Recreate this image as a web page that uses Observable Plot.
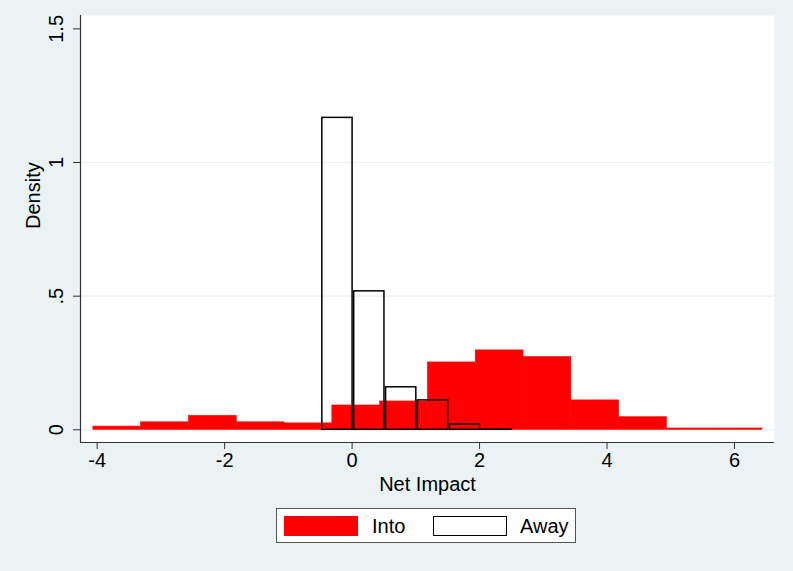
<!DOCTYPE html>
<html>
<head>
<meta charset="utf-8">
<script src="https://cdn.jsdelivr.net/npm/d3@7"></script>
<script src="https://cdn.jsdelivr.net/npm/@observablehq/plot@0.6"></script>
<style>
  html, body { margin: 0; padding: 0; background: #eaf2f3; }
  #wrap { position: relative; width: 793px; height: 571px; background: #eaf2f3;
          font-family: "Liberation Sans", Arial, sans-serif; }
  #plot svg { display: block; }
  #legend { position: absolute; left: 276px; top: 508px; width: 300px; height: 35px;
            background: #fff; border: 1px solid #555; box-sizing: border-box; }
  .sw { position: absolute; top: 7px; width: 74px; height: 20px; box-sizing: border-box; }
  .lab { position: absolute; top: 5px; font-size: 20px; line-height: 24px; color: #000; }
</style>
</head>
<body>
<div id="wrap">
  <div id="plot"></div>
  <div id="legend"></div>
</div>
<script>
// ---- data ----
const intoBinStart = [-4.06, -3.31, -2.56, -1.81, -1.06, -0.31, 0.44, 1.19, 1.94, 2.69, 3.44, 4.19, 4.94, 5.69];
const intoBinWidth = 0.75;
const intoDensity  = [0.012, 0.028, 0.052, 0.028, 0.024, 0.091, 0.106, 0.252, 0.297, 0.272, 0.110, 0.047, 0.005, 0.005];

const awayBinStart = [-0.48, 0.02, 0.52, 1.02, 1.52, 2.02];
const awayBinWidth = 0.5;
const awayDensity  = [1.167, 0.518, 0.159, 0.110, 0.020, 0.001];

const xTicks = [-4, -2, 0, 2, 4, 6];
const yTicks = [0, 0.5, 1, 1.5];
const yTickLabels = ["0", ".5", "1", "1.5"];
const gridValues = [0, 0.5, 1];
const seriesNames = ["Into", "Away"];
const seriesColors = ["#ff0000", "#000000"];
const xLabel = "Net Impact";
const yLabel = "Density";

const xDomain = [-4.262, 6.628];
const yDomain = [-0.0475, 1.55];

// ---- build tables ----
const intoData = intoBinStart.map((s, i) => ({x1: s, x2: s + intoBinWidth, y: intoDensity[i]}));
const awayData = awayBinStart.map((s, i) => ({x1: s, x2: s + awayBinWidth, y: awayDensity[i]}));

const font = '"Liberation Sans", Arial, sans-serif';

const chart = Plot.plot({
  width: 793,
  height: 500,
  marginLeft: 80,
  marginRight: 19,
  marginTop: 15,
  marginBottom: 58,
  style: {background: "none", color: "#000", fontFamily: font, fontSize: "20px"},
  x: {domain: xDomain},
  y: {domain: yDomain},
  marks: [
    Plot.frame({fill: "white"}),
    Plot.ruleY(gridValues, {stroke: "#eaf2f3", strokeWidth: 1.2}),
    Plot.rect(intoData, {x1: "x1", x2: "x2", y1: 0, y2: "y", fill: seriesColors[0],
                         stroke: seriesColors[0], strokeWidth: 0.6}),
    Plot.rect(awayData, {x1: "x1", x2: "x2", y1: 0, y2: "y", fill: "none",
                         stroke: seriesColors[1], strokeWidth: 1.5, insetLeft: 0.8, insetRight: 0.8}),
    Plot.ruleX([xDomain[0]], {stroke: "#333", strokeWidth: 1.2}),
    Plot.ruleY([yDomain[0]], {stroke: "#333", strokeWidth: 1.2}),
    Plot.axisY({ticks: yTicks, tickSize: 7, tickPadding: 11, tickRotate: -90,
                tickFormat: d => yTickLabels[yTicks.indexOf(d)], fontSize: 20, label: null, stroke: "#333"}),
    Plot.axisX({ticks: xTicks, tickSize: 7, tickPadding: 3,
                tickFormat: d => String(d), fontSize: 20, label: null, stroke: "#333"}),
    Plot.text([xLabel], {frameAnchor: "bottom", dy: 48, lineAnchor: "bottom", fontSize: 20}),
    Plot.text([yLabel], {frameAnchor: "left", dx: -47, rotate: -90, fontSize: 20})
  ]
});
document.getElementById("plot").appendChild(chart);

// ---- legend ----
const legend = document.getElementById("legend");
const swLeft = [7, 156];
const labLeft = [95, 243];
seriesNames.forEach((name, i) => {
  const sw = document.createElement("div");
  sw.className = "sw";
  sw.style.left = swLeft[i] + "px";
  if (i === 0) { sw.style.background = seriesColors[0]; }
  else { sw.style.background = "#fff"; sw.style.border = "1.5px solid " + seriesColors[1]; }
  legend.appendChild(sw);
  const lb = document.createElement("div");
  lb.className = "lab";
  lb.style.left = labLeft[i] + "px";
  lb.textContent = name;
  legend.appendChild(lb);
});
</script>
</body>
</html>
